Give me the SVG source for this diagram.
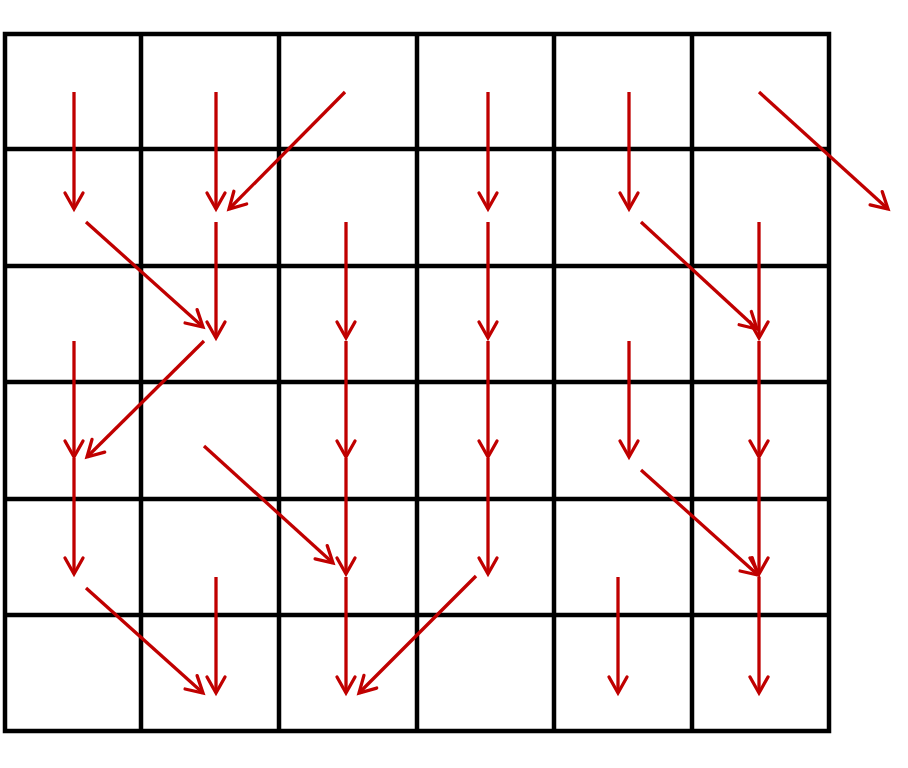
<svg xmlns="http://www.w3.org/2000/svg" width="908" height="768" viewBox="0 0 908 768">
<style>
.grid{stroke:#000;stroke-width:4.5;fill:none}
.arr{stroke:#C00000;stroke-width:3.3;fill:none;marker-end:url(#ah)}
</style>
<defs>
<marker id="ah" markerUnits="userSpaceOnUse" markerWidth="24" markerHeight="24" viewBox="-20 -12 24 24" refX="0" refY="0" orient="auto" overflow="visible">
<path d="M-16,-9 L0,0 L-16,9" fill="none" stroke="#C00000" stroke-width="3.3" stroke-linecap="round" stroke-linejoin="miter"/>
</marker>
</defs>
<rect width="908" height="768" fill="#fff"/>
<g id="grid" class="grid">
<rect x="5" y="34" width="824" height="697"/>
<line x1="141" y1="34" x2="141" y2="731"/>
<line x1="279" y1="34" x2="279" y2="731"/>
<line x1="417" y1="34" x2="417" y2="731"/>
<line x1="554" y1="34" x2="554" y2="731"/>
<line x1="692" y1="34" x2="692" y2="731"/>
<line x1="5" y1="149" x2="829" y2="149"/>
<line x1="5" y1="266" x2="829" y2="266"/>
<line x1="5" y1="382" x2="829" y2="382"/>
<line x1="5" y1="499" x2="829" y2="499"/>
<line x1="5" y1="615" x2="829" y2="615"/>
</g>
<g id="connectors">
<line class="arr" x1="74" y1="92" x2="74" y2="209"/>
<line class="arr" x1="216" y1="92" x2="216" y2="209"/>
<line class="arr" x1="345" y1="92" x2="229" y2="209"/>
<line class="arr" x1="488" y1="92" x2="488" y2="209"/>
<line class="arr" x1="629" y1="92" x2="629" y2="209"/>
<line class="arr" x1="759" y1="92" x2="888" y2="209"/>

<line class="arr" x1="86" y1="222" x2="203" y2="327"/>
<line class="arr" x1="216" y1="222" x2="216" y2="338"/>
<line class="arr" x1="346" y1="222" x2="346" y2="338"/>
<line class="arr" x1="488" y1="222" x2="488" y2="338"/>
<line class="arr" x1="641" y1="222" x2="757" y2="329"/>
<line class="arr" x1="759" y1="222" x2="759" y2="338"/>

<line class="arr" x1="74" y1="341" x2="74" y2="457"/>
<line class="arr" x1="204" y1="341" x2="87" y2="457"/>
<line class="arr" x1="346" y1="341" x2="346" y2="457"/>
<line class="arr" x1="488" y1="341" x2="488" y2="457"/>
<line class="arr" x1="629" y1="341" x2="629" y2="457"/>
<line class="arr" x1="759" y1="341" x2="759" y2="457"/>

<line class="arr" x1="74" y1="458" x2="74" y2="574"/>
<line class="arr" x1="204" y1="446" x2="333" y2="563"/>
<line class="arr" x1="346" y1="458" x2="346" y2="574"/>
<line class="arr" x1="488" y1="458" x2="488" y2="574"/>
<line class="arr" x1="641" y1="470" x2="758" y2="575"/>
<line class="arr" x1="759" y1="458" x2="759" y2="574"/>

<line class="arr" x1="86" y1="588" x2="203" y2="693"/>
<line class="arr" x1="216" y1="577" x2="216" y2="693"/>
<line class="arr" x1="346" y1="577" x2="346" y2="693"/>
<line class="arr" x1="476" y1="576" x2="359" y2="693"/>
<line class="arr" x1="618" y1="577" x2="618" y2="693"/>
<line class="arr" x1="759" y1="577" x2="759" y2="693"/>
</g>
</svg>
